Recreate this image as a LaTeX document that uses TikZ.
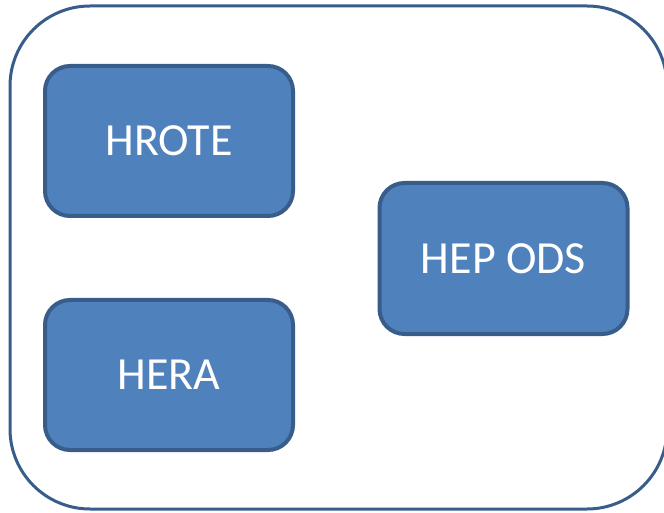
\documentclass[tikz,border=0pt]{standalone}
\usepackage{fontspec}
\setmainfont{Carlito}
\usetikzlibrary{positioning}
\definecolor{boxfill}{HTML}{4F81BD}
\definecolor{boxline}{HTML}{385D8A}

\begin{document}
\begin{tikzpicture}[x=1pt, y=1pt,
  frame/.style={rectangle, rounded corners=80pt, minimum width=657pt, minimum height=503pt, draw=boxline, line width=3pt, fill=white},
  system/.style={rectangle, rounded corners=25pt, minimum width=248pt, minimum height=150pt, text centered, draw=boxline, line width=4pt, fill=boxfill, text=white, font=\fontsize{46}{52}\selectfont}]

  \useasboundingbox (0,0) rectangle (664,512);
  \clip (0,0) rectangle (664,512);

  % Nodes
  \node (frame) [frame] at (338.5,254.5) {};
  \node (hrote) [system] at (169,371) {HROTE};
  \node (hera) [system] at (169,137) {HERA};
  \node (hepods) [system, minimum height=151pt] at (503.5,253.5) {HEP ODS};

\end{tikzpicture}
\end{document}
